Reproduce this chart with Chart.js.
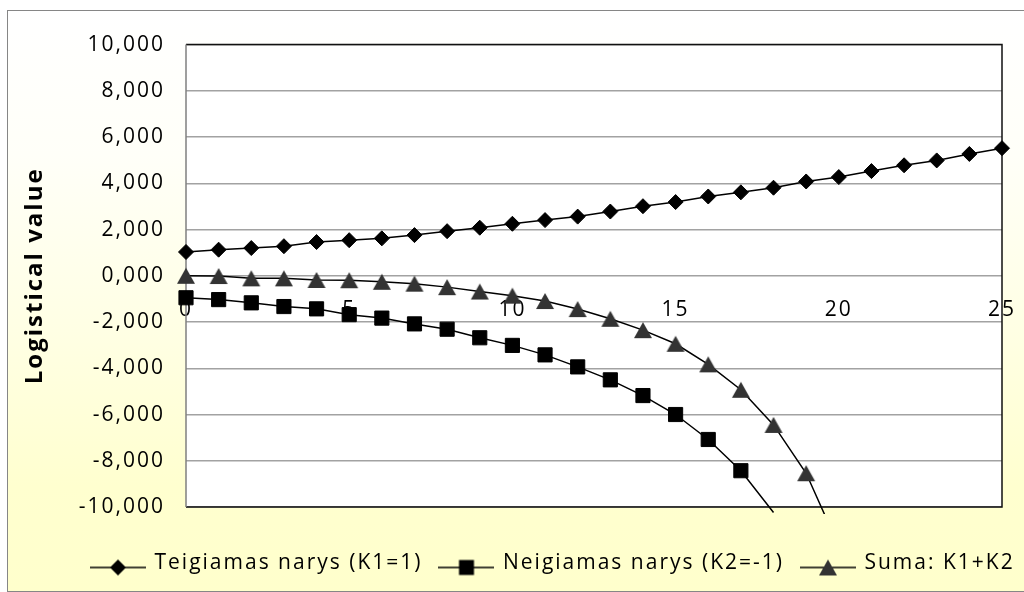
<!DOCTYPE html>
<html>
<head>
<meta charset="utf-8">
<script src="https://cdn.jsdelivr.net/npm/chart.js@4/dist/chart.umd.min.js"></script>
<style>
  html, body { margin: 0; padding: 0; width: 1024px; height: 592px; overflow: hidden; background: #ffffff; }
  #frame {
    position: absolute; left: 7px; top: 10px; width: 1130px; height: 580px;
    border: 1px solid #868686;
    background: linear-gradient(to bottom, #ffffff 0%, #fffff8 25%, #ffffe4 55%, #ffffcf 82%, #ffffcc 100%);
  }
  canvas { display: block; }
</style>
</head>
<body>
<div id="frame"><canvas id="chart" width="1130" height="580"></canvas></div>
<script>
// x positions (K) and the three series
const xValues = [0, 1, 2, 3, 4, 5, 6, 7, 8, 9, 10, 11, 12, 13, 14, 15, 16, 17, 18, 19, 20, 21, 22, 23, 24, 25];
const teigiamas = [1.03, 1.13, 1.20, 1.28, 1.46, 1.54, 1.62, 1.76, 1.93, 2.08, 2.25, 2.41, 2.56, 2.78, 3.01, 3.19, 3.43, 3.61, 3.81, 4.08, 4.27, 4.53, 4.78, 4.99, 5.27, 5.52];
const neigiamas = [-0.95, -1.03, -1.17, -1.33, -1.43, -1.68, -1.83, -2.08, -2.31, -2.68, -3.01, -3.42, -3.94, -4.50, -5.18, -6.00, -7.08, -8.43, -10.24];
const suma = [0.00, -0.01, -0.11, -0.11, -0.18, -0.19, -0.26, -0.34, -0.49, -0.68, -0.86, -1.09, -1.44, -1.86, -2.35, -2.94, -3.83, -4.93, -6.45, -8.54, -11.70];
const seriesNames = ['Teigiamas narys (K1=1)', 'Neigiamas narys (K2=-1)', 'Suma: K1+K2'];
const xTickValues = [0, 5, 10, 15, 20, 25];
const yTickValues = [-10, -8, -6, -4, -2, 0, 2, 4, 6, 8, 10];
const axisTitle = 'Logistical value';

const FONT = "'Open Sans', 'Noto Sans', sans-serif";
const Y_MIN = -10, Y_MAX = 10;
const CANVAS_W = 1130;
const PLOT_LEFT = 178, PLOT_RIGHT = 994;

function makeCanvas(w, h, paint) {
  const c = document.createElement('canvas');
  c.width = w; c.height = h;
  paint(c.getContext('2d'), w, h);
  return c;
}
function paintTriangle(g, cx, cy, w, h, color) {
  g.fillStyle = color;
  g.beginPath();
  g.moveTo(cx, cy - h / 2);
  g.lineTo(cx + w / 2, cy + h / 2);
  g.lineTo(cx - w / 2, cy + h / 2);
  g.closePath();
  g.fill();
}
// triangle marker with its box centred on the point
const triangleMark = makeCanvas(20, 18, (g) => paintTriangle(g, 10, 9, 18, 16, '#333333'));

// legend icons: a short line with the series marker on it
function legendIcon(drawMarker) {
  return makeCanvas(56, 26, (g, w) => {
    const cy = 17;
    g.strokeStyle = '#000'; g.lineWidth = 1.5;
    g.beginPath(); g.moveTo(0, cy); g.lineTo(w, cy); g.stroke();
    drawMarker(g, w / 2, cy);
  });
}
const legendIcons = [
  legendIcon((g, x, y) => { g.fillStyle = '#000'; g.beginPath(); g.moveTo(x - 8, y); g.lineTo(x, y - 8); g.lineTo(x + 8, y); g.lineTo(x, y + 8); g.closePath(); g.fill(); }),
  legendIcon((g, x, y) => { g.fillStyle = '#000'; g.fillRect(x - 7.5, y - 7.5, 15, 15); }),
  legendIcon((g, x, y) => paintTriangle(g, x, y, 18, 16, '#333333'))
];

const toPoints = (ys) => ys.map((y, i) => ({ x: xValues[i], y }));
const radiusInside = (r) => (ctx) => (ctx.raw && (ctx.raw.y < Y_MIN || ctx.raw.y > Y_MAX)) ? 0 : r;
const lineClip = { left: 12, top: 12, right: 12, bottom: 7 };

// white plot area, dark frame, wide glyph spacing, legend placement
const plotDecor = {
  id: 'plotDecor',
  beforeLayout(chart) { chart.ctx.letterSpacing = '2px'; },
  afterLayout(chart) {
    const lg = chart.legend;
    if (lg) {
      const h = lg.height;
      lg.left = 66; lg.top = 524;
      lg.right = CANVAS_W + 200; lg.bottom = lg.top + h;
      lg.width = lg.right - lg.left;
    }
  },
  beforeDraw(chart) {
    const { ctx, chartArea: a } = chart;
    ctx.letterSpacing = '2px';
    ctx.save();
    ctx.fillStyle = '#ffffff';
    ctx.fillRect(a.left, a.top, a.right - a.left, a.bottom - a.top);
    ctx.restore();
  },
  beforeDatasetsDraw(chart) {
    const { ctx, chartArea: a } = chart;
    ctx.save();
    ctx.lineWidth = 1.5;
    ctx.strokeStyle = '#111111';
    ctx.beginPath();
    ctx.moveTo(a.left, a.top); ctx.lineTo(a.right, a.top);
    ctx.lineTo(a.right, a.bottom); ctx.lineTo(a.left, a.bottom);
    ctx.stroke();
    ctx.strokeStyle = '#7f7f7f';
    ctx.beginPath(); ctx.moveTo(a.left, a.top); ctx.lineTo(a.left, a.bottom); ctx.stroke();
    ctx.restore();
  }
};

new Chart(document.getElementById('chart'), {
  type: 'line',
  data: {
    datasets: [
      {
        label: seriesNames[0], data: toPoints(teigiamas),
        borderColor: '#000', borderWidth: 1.5, tension: 0,
        pointStyle: 'rectRot', pointRadius: radiusInside(7.5), pointHoverRadius: radiusInside(7.5),
        pointBackgroundColor: '#000', pointBorderColor: '#000', pointBorderWidth: 1,
        clip: lineClip
      },
      {
        label: seriesNames[1], data: toPoints(neigiamas),
        borderColor: '#000', borderWidth: 1.5, tension: 0,
        pointStyle: 'rect', pointRadius: radiusInside(10), pointHoverRadius: radiusInside(10),
        pointBackgroundColor: '#000', pointBorderColor: '#000', pointBorderWidth: 1,
        clip: lineClip
      },
      {
        label: seriesNames[2], data: toPoints(suma),
        borderColor: '#000', borderWidth: 1.5, tension: 0,
        pointStyle: triangleMark, pointRadius: radiusInside(8), pointHoverRadius: radiusInside(8),
        pointBorderWidth: 0,
        clip: lineClip
      }
    ]
  },
  options: {
    responsive: false,
    animation: false,
    devicePixelRatio: 1,
    events: [],
    layout: { padding: { left: 0, right: 0, top: 20, bottom: 35 } },
    plugins: {
      tooltip: { enabled: false },
      legend: {
        position: 'bottom',
        align: 'start',
        labels: {
          usePointStyle: true,
          pointStyleWidth: 52,
          padding: 18,
          color: '#000',
          font: { family: FONT, size: 21 },
          generateLabels: (chart) => chart.data.datasets.map((ds, i) => ({
            text: ds.label, pointStyle: legendIcons[i], datasetIndex: i,
            hidden: false, lineWidth: 0, fontColor: '#000'
          }))
        }
      }
    },
    scales: {
      x: {
        type: 'linear', min: 0, max: 25,
        position: { y: 0 },
        grid: { display: false, drawTicks: false },
        border: { display: false },
        afterBuildTicks: (s) => { s.ticks = xTickValues.map(v => ({ value: v })); },
        ticks: { padding: 22, color: '#000', font: { family: FONT, size: 21 }, maxRotation: 0, autoSkip: false }
      },
      y: {
        type: 'linear', min: Y_MIN, max: Y_MAX, position: 'left',
        afterFit: (s) => { s.width = PLOT_LEFT; },
        afterBuildTicks: (s) => { s.ticks = yTickValues.map(v => ({ value: v })); },
        grid: { color: '#a2a2a2', lineWidth: 1.5, drawTicks: false },
        border: { display: false },
        ticks: {
          padding: 21, color: '#000', font: { family: FONT, size: 21 },
          callback: (v) => Number(v).toFixed(3).replace('.', ',')
        },
        title: {
          display: true, text: axisTitle, color: '#000',
          font: { family: FONT, size: 24, weight: 'bold', lineHeight: 1.2 },
          padding: { top: 13, bottom: 0 }
        }
      },
      yRight: {
        type: 'linear', position: 'right',
        grid: { display: false }, border: { display: false }, ticks: { display: false },
        afterFit: (s) => { s.width = CANVAS_W - PLOT_RIGHT; }
      }
    }
  },
  plugins: [plotDecor]
});
</script>
</body>
</html>
